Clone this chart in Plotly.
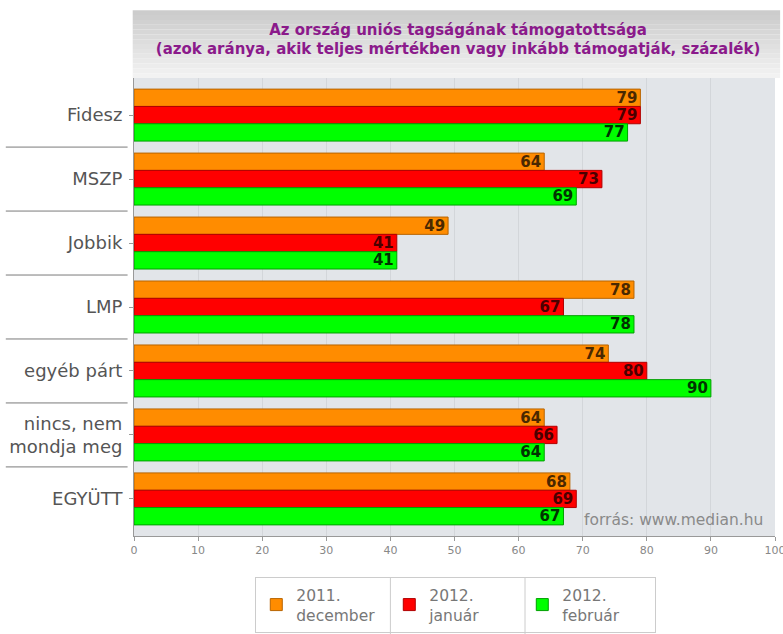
import plotly.graph_objects as go

# adatok
partok = ["Fidesz", "MSZP", "Jobbik", "LMP", "egyéb párt", "nincs, nem<br>mondja meg", "EGYÜTT"]
dec_2011 = [79, 64, 49, 78, 74, 64, 68]
jan_2012 = [79, 73, 41, 67, 80, 66, 69]
feb_2012 = [77, 69, 41, 78, 90, 64, 67]
nevek = ["2011.<br>december", "2012.<br>január", "2012.<br>február"]

szinek = ["#FF8C00", "#FF0000", "#00FF00"]
keretek = ["#B86400", "#B00000", "#00A000"]
szovegszin = ["#4A2800", "#4A0000", "#003300"]

fig = go.Figure()
for nev, ertekek, szin, keret, tszin in zip(nevek, [dec_2011, jan_2012, feb_2012], szinek, keretek, szovegszin):
    fig.add_trace(go.Bar(
        y=partok, x=ertekek, name=nev, orientation="h",
        marker=dict(color=szin, line=dict(color=keret, width=1)),
        text=ertekek, textposition="inside", insidetextanchor="end",
        textfont=dict(family="DejaVu Sans", size=15, color=tszin, weight="bold"),
    ))

# cimdoboz (szurke atmenet)
sav = 14
for i in range(sav):
    g = int(204 + i * (242 - 204) / (sav - 1))
    fig.add_shape(type="rect", xref="paper", yref="paper",
                  x0=-0.002, x1=1.008,
                  y0=1.0 + (sav - 1 - i) * 0.148 / sav, y1=1.0 + (sav - i) * 0.148 / sav,
                  fillcolor=f"rgb({g},{g},{g})", line=dict(width=0), layer="below")

# elvalaszto vonalak a kategoriak kozott
for i in range(len(partok) - 1):
    fig.add_shape(type="line", xref="paper", yref="y",
                  x0=-0.2, x1=-0.01, y0=i + 0.5, y1=i + 0.5,
                  line=dict(color="#7a7a7a", width=1))

# jelmagyarazat cellahatarai
for xp in [0.40, 0.61]:
    fig.add_shape(type="line", xref="paper", yref="paper",
                  x0=xp, x1=xp, y0=-0.09, y1=-0.215,
                  line=dict(color="#CCCCCC", width=1))

fig.add_annotation(text="forrás: www.median.hu", xref="paper", yref="paper",
                   x=0.984, y=0.012, xanchor="right", yanchor="bottom", showarrow=False,
                   font=dict(family="DejaVu Sans", size=15.5, color="#8a8a8a"))

fig.update_layout(
    width=783, height=634,
    margin=dict(l=134, r=8, t=78, b=98),
    paper_bgcolor="white", plot_bgcolor="#E2E5E9",
    barmode="group", bargap=0.1875, bargroupgap=0,
    uniformtext=dict(minsize=15, mode="show"),
    title=dict(text="Az ország uniós tagságának támogatottsága<br>(azok aránya, akik teljes mértékben vagy inkább támogatják, százalék)",
               x=0.585, xanchor="center", y=0.945, yanchor="middle",
               font=dict(family="DejaVu Sans", size=15, color="#8B1A8B", weight="bold")),
    xaxis=dict(range=[0, 100], dtick=10, showgrid=True, gridcolor="#D3D6DA", automargin=False,
               showline=True, linecolor="#999999", ticks="outside", ticklen=4, tickcolor="#999999",
               ticklabeloverflow="allow",
               tickfont=dict(family="DejaVu Sans", size=11, color="#888888"), zeroline=False),
    yaxis=dict(range=[6.58, -0.58], showline=True, linecolor="#999999", automargin=False,
               ticks="outside", ticklen=4, tickcolor="#999999", ticklabelstandoff=3,
               tickfont=dict(family="DejaVu Sans", size=18, color="#555555")),
    legend=dict(orientation="h", x=0.502, xanchor="center", yref="container", y=0.09, yanchor="top",
                bordercolor="#CCCCCC", borderwidth=1, bgcolor="rgba(0,0,0,0)",
                entrywidth=88, entrywidthmode="pixels",
                font=dict(family="DejaVu Sans", size=15.5, color="#777777")),
    font=dict(family="DejaVu Sans"),
)

fig.write_html("out.html", config={"displayModeBar": False},
               post_script="document.body.style.margin='0';")
